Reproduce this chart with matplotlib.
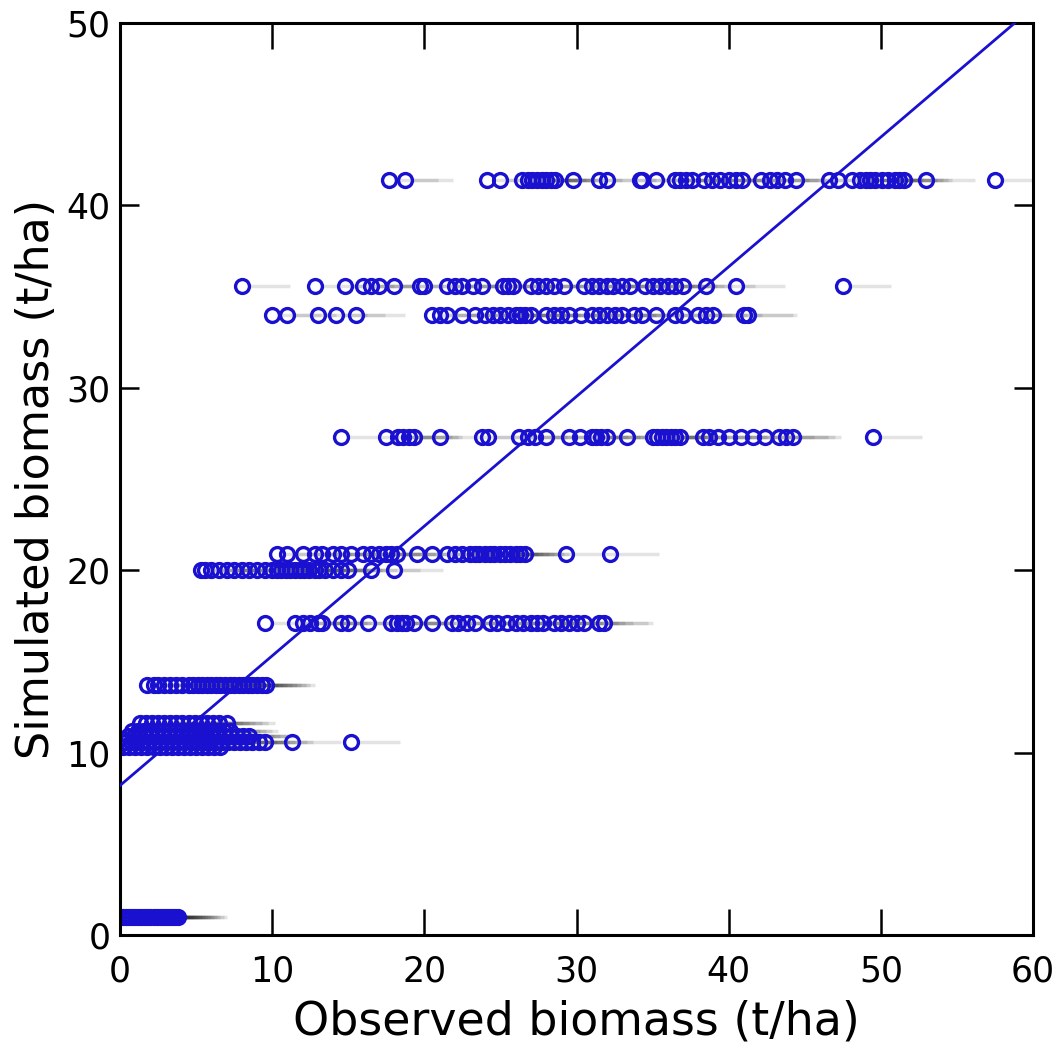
import numpy as np
import matplotlib.pyplot as plt

# simulated biomass level of each group (t/ha) and observed biomass values (t/ha)
sim_levels = [41.4, 35.6, 34.0, 27.3, 20.9, 20.0, 17.1, 13.7,
              11.6, 11.2, 10.9, 10.6, 10.3, 1.0]

obs_414 = [17.7, 18.7, 24.1, 25.0, 26.4, 26.8, 27.1, 27.4, 27.7, 28.0, 28.3, 28.6,
           29.8, 31.5, 32.0, 34.2, 34.3, 35.2, 36.5, 36.8, 37.2, 37.6, 38.4, 38.9,
           39.4, 40.0, 40.5, 40.9, 42.1, 42.7, 43.2, 43.7, 44.4, 46.6, 47.2, 48.1,
           48.6, 49.0, 49.3, 49.6, 50.1, 50.5, 50.9, 51.2, 51.5, 53.0, 57.5]
obs_356 = [8.0, 12.8, 14.8, 16.0, 16.5, 17.0, 18.0, 19.7, 20.0, 21.5, 22.0, 22.5,
           23.2, 23.8, 25.2, 25.5, 25.8, 27.0, 27.5, 28.0, 28.5, 29.2, 30.5, 31.0,
           31.5, 32.0, 32.4, 33.0, 33.5, 34.5, 35.0, 35.5, 36.0, 36.5, 37.0, 38.5,
           40.5, 47.5]
obs_340 = [10.0, 11.0, 13.0, 14.2, 15.5, 20.5, 21.0, 21.5, 22.5, 23.3, 24.0, 24.5,
           25.0, 25.5, 26.0, 26.3, 26.6, 27.0, 28.0, 28.5, 29.0, 29.5, 30.3, 31.0,
           31.5, 32.0, 32.5, 33.0, 33.8, 34.3, 35.2, 36.5, 37.0, 38.0, 38.5, 39.0,
           41.0, 41.3]
obs_273 = [14.5, 17.5, 18.3, 18.6, 19.0, 19.3, 21.0, 23.8, 24.2, 26.2, 26.8, 27.3,
           28.0, 29.5, 30.2, 31.0, 31.3, 31.6, 32.0, 33.3, 35.0, 35.3, 35.6, 35.9,
           36.2, 36.5, 36.8, 38.3, 38.7, 39.3, 40.0, 40.8, 41.6, 42.4, 43.3, 43.8,
           44.2, 49.5]
obs_209 = [10.3, 11.0, 12.0, 12.8, 13.3, 14.0, 14.5, 15.2, 16.0, 16.5, 17.0, 17.5,
           17.8, 18.2, 19.5, 20.5, 21.5, 22.0, 22.5, 23.0, 23.3, 23.6, 24.0, 24.3,
           24.6, 25.0, 25.3, 25.6, 26.0, 26.3, 26.6, 29.3, 32.2]
obs_200 = [5.3, 5.6, 6.0, 6.5, 7.0, 7.5, 8.0, 8.5, 9.0, 9.5, 10.0, 10.3, 10.6,
           10.9, 11.2, 11.5, 11.8, 12.1, 12.4, 12.8, 13.1, 13.5, 14.0, 14.5, 15.0,
           16.5, 18.0]
obs_171 = [9.5, 11.5, 12.0, 12.5, 13.0, 13.3, 14.5, 15.0, 16.3, 17.8, 18.2, 18.5,
           18.8, 19.3, 20.5, 21.8, 22.2, 22.8, 23.3, 24.3, 24.8, 25.4, 26.0, 26.5,
           27.0, 27.4, 27.8, 28.5, 29.0, 29.5, 30.0, 30.5, 31.5, 31.8]
obs_137 = [1.8, 2.2, 2.5, 2.9, 3.3, 3.7, 4.1, 4.5, 4.8, 5.1, 5.4, 5.7, 6.0, 6.3,
           6.6, 6.9, 7.2, 7.5, 7.8, 8.1, 8.4, 8.7, 9.0, 9.3, 9.6]
obs_116 = [1.3, 1.7, 2.1, 2.5, 2.9, 3.3, 3.7, 4.1, 4.5, 4.9, 5.3, 5.7, 6.1, 6.5, 7.0]
obs_112 = [0.8, 1.2, 1.6, 2.0, 2.4, 2.8, 3.2, 3.6, 4.0, 4.4, 4.8, 5.2, 5.6, 6.0,
           6.4, 6.8, 7.2]
obs_109 = [0.5, 0.9, 1.3, 1.7, 2.1, 2.5, 2.9, 3.3, 3.7, 4.1, 4.5, 4.9, 5.3, 5.7,
           6.1, 6.5, 6.9, 7.3, 7.7, 8.1, 8.5]
obs_106 = [0.3, 0.7, 1.1, 1.5, 1.9, 2.3, 2.7, 3.1, 3.5, 3.9, 4.3, 4.7, 5.1, 5.5,
           5.9, 6.3, 6.7, 7.1, 7.5, 7.9, 8.3, 8.7, 9.1, 9.5, 11.3, 15.2]
obs_103 = [0.2, 0.6, 1.0, 1.4, 1.8, 2.2, 2.6, 3.0, 3.4, 3.8, 4.2, 4.6, 5.0, 5.4,
           5.8, 6.2, 6.6]
obs_010 = [0.2, 0.4, 0.6, 0.8, 1.0, 1.2, 1.4, 1.6, 1.8, 2.0, 2.2, 2.4, 2.6, 2.8,
           3.0, 3.2, 3.4, 3.6, 3.8]

obs_groups = [obs_414, obs_356, obs_340, obs_273, obs_209, obs_200, obs_171,
              obs_137, obs_116, obs_112, obs_109, obs_106, obs_103, obs_010]

# fitted regression line
fit_intercept = 8.2
fit_slope = 0.711

blue = '#1a10d0'

fig = plt.figure(figsize=(10.53, 10.50), dpi=100)
ax = fig.add_axes([0.114, 0.1095, 0.867, 0.8685])

for level, obs in zip(sim_levels, obs_groups):
    obs = np.array(obs)
    # faint grey trail to the right of every marker
    ax.hlines(np.full(len(obs), level), obs + 0.4, obs + 3.2,
              color='black', alpha=0.11, linewidth=2.5, zorder=1)
    ax.plot(obs, np.full(len(obs), level), 'o', markerfacecolor='none',
            markeredgecolor=blue, markersize=10, markeredgewidth=2.4, zorder=2)

xl = np.array([0, 60])
ax.plot(xl, fit_intercept + fit_slope * xl, color=blue, linewidth=2.0, zorder=3)

ax.set_xlim(0, 60)
ax.set_ylim(0, 50)
ax.set_xticks([0, 10, 20, 30, 40, 50, 60])
ax.set_yticks([0, 10, 20, 30, 40, 50])
ax.tick_params(direction='in', width=1.8, labelsize=25, top=True, right=True)
ax.tick_params(axis='x', length=19, pad=14)
ax.tick_params(axis='y', length=14, pad=7)
for s in ax.spines.values():
    s.set_linewidth(2.2)

ax.set_xlabel('Observed biomass (t/ha)', fontsize=33, labelpad=8)
ax.set_ylabel('Simulated biomass (t/ha)', fontsize=32, labelpad=6)

fig.savefig('out.png', dpi=100)
